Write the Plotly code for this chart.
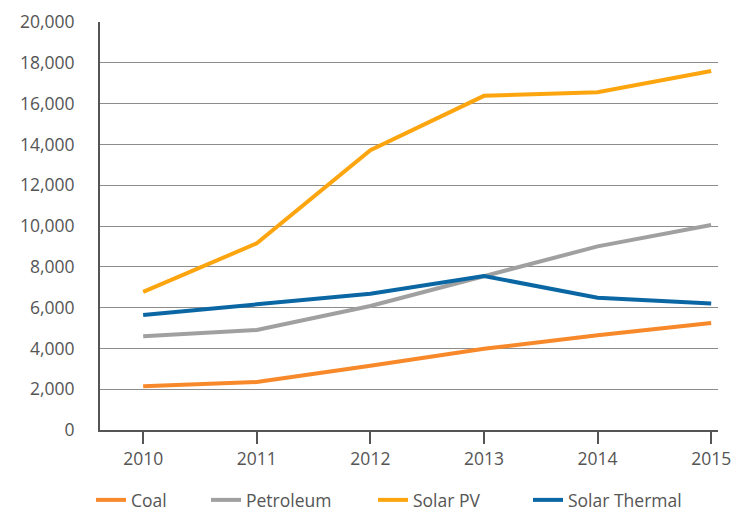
import plotly.graph_objects as go

# --- data -----------------------------------------------------------------
years = [2010, 2011, 2012, 2013, 2014, 2015]
coal = [2150, 2350, 3150, 3980, 4650, 5250]
petroleum = [4600, 4900, 6080, 7550, 9000, 10050]
solar_pv = [6770, 9150, 13720, 16380, 16560, 17600]
solar_thermal = [5640, 6180, 6680, 7550, 6480, 6200]

names = ["Coal", "Petroleum", "Solar PV", "Solar Thermal"]
colors = ["#F7892A", "#A0A0A0", "#FDA50F", "#0A67A3"]
values = [coal, petroleum, solar_pv, solar_thermal]

INK = "#555555"
GRID = "#8c8c8c"
FONT = "Open Sans"
FS = 17.5
W, H = 736, 504          # page body has an 8px margin, so keep the figure inside the window

# one single-entry legend per series, so each can sit where the reference has it
LEGEND_X = [83, 198, 365, 520]   # left edge in px of the figure

fig = go.Figure()
for i, (name, vals, color) in enumerate(zip(names, values, colors)):
    lg = "legend" if i == 0 else f"legend{i + 1}"
    fig.add_trace(go.Scatter(
        x=years, y=vals, name=name, mode="lines", legend=lg,
        line=dict(color=color, width=4), hoverinfo="skip"))

legends = {}
for i, px in enumerate(LEGEND_X):
    lg = "legend" if i == 0 else f"legend{i + 1}"
    legends[lg] = dict(orientation="h", xref="container", yref="container",
                       x=px / W, xanchor="left", y=12 / H, yanchor="middle",
                       entrywidth=140, entrywidthmode="pixels",
                       font=dict(family=FONT, size=FS, color=INK),
                       bgcolor="rgba(0,0,0,0)")

# the y-axis line runs a little below zero, like a tick at the axis start
fig.add_shape(type="line", xref="x domain", yref="y", x0=0, x1=0,
              ysizemode="pixel", yanchor=0, y0=0, y1=-12,
              line=dict(color=INK, width=2))

fig.update_layout(
    width=W, height=H,
    paper_bgcolor="white", plot_bgcolor="white",
    margin=dict(l=92, r=26, t=14, b=82),
    font=dict(family=FONT, size=FS, color=INK),
    showlegend=True,
    **legends,
)
fig.update_xaxes(
    range=[2009.62, 2015.06], tickmode="array", tickvals=years,
    ticktext=[str(y) for y in years],
    showgrid=False, zeroline=False, automargin=False,
    showline=True, linecolor=INK, linewidth=2,
    ticks="outside", ticklen=12, tickwidth=2, tickcolor=INK,
    tickfont=dict(size=FS, color=INK))
fig.update_yaxes(
    range=[0, 20000], dtick=2000, tickformat=",",
    showgrid=True, gridcolor=GRID, gridwidth=1,
    zeroline=False, showline=True, linecolor=INK, linewidth=2,
    ticks="", ticklabelstandoff=20, automargin=False,
    tickfont=dict(size=FS, color=INK))

fig.write_html("out.html")
